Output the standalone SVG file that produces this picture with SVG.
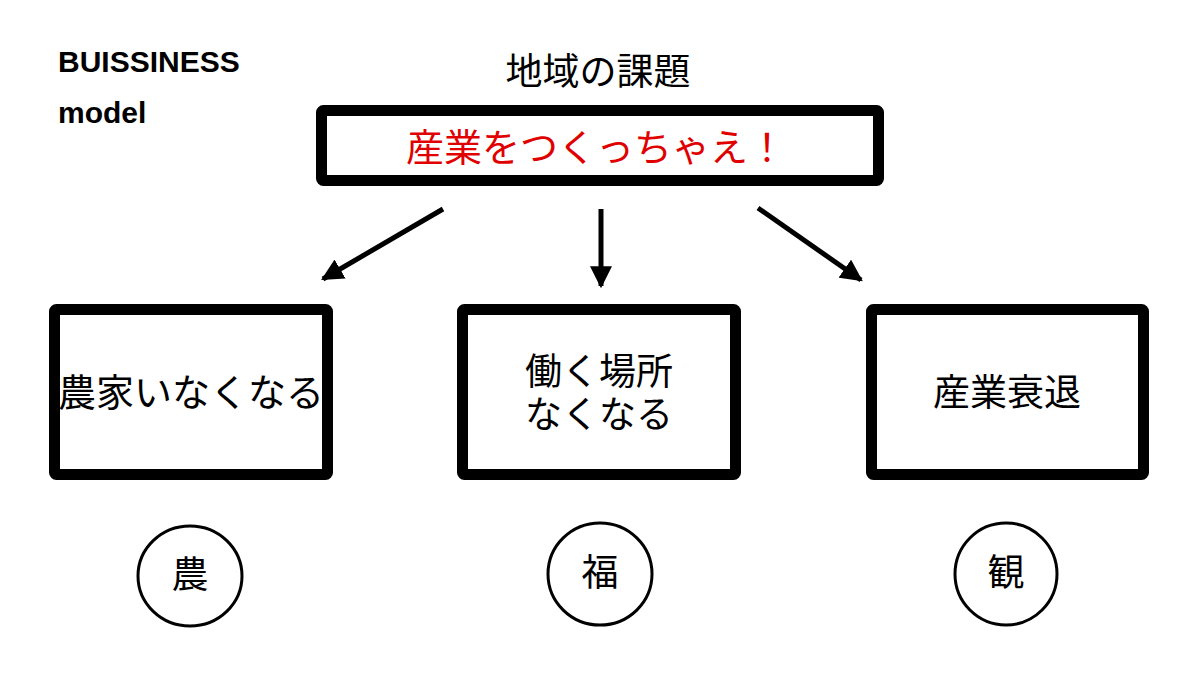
<svg xmlns="http://www.w3.org/2000/svg" width="1200" height="675" viewBox="0 0 1200 675">
<defs>
<style>
.box{fill:#fff;stroke:#000;stroke-width:11}
.jp{font-family:"Noto Sans CJK JP","Noto Sans CJK SC",sans-serif;font-size:37px;fill:#000;text-anchor:middle}
.en{font-family:"Liberation Sans",Arial,sans-serif;font-weight:bold;font-size:30px;fill:#000}
.circ{fill:#fff;stroke:#000;stroke-width:3}
.arr{stroke:#000;stroke-width:5;fill:none;marker-end:url(#ah)}
</style>
<marker id="ah" viewBox="0 0 10 10" refX="9" refY="5" markerWidth="4.4" markerHeight="4.4" orient="auto" markerUnits="strokeWidth">
<path d="M0,0 L10,5 L0,10 z" fill="#000"/>
</marker>
</defs>
<rect width="1200" height="675" fill="#fff"/>
<g id="label-business">
<text class="en" x="58" y="72">BUISSINESS</text>
<text class="en" x="58" y="123">model</text>
</g>
<g id="title">
<text class="jp" x="598" y="85" font-size="40">地域の課題</text>
</g>
<g id="top">
<rect class="box" x="321.5" y="110.5" width="557" height="70" rx="2"/>
<text class="jp" x="596" y="161" style="fill:#e00000;font-size:38px">産業をつくっちゃえ！</text>
</g>
<g id="connectors">
<line class="arr" x1="443" y1="209" x2="323" y2="279"/>
<line class="arr" x1="601" y1="209" x2="601" y2="286"/>
<line class="arr" x1="758" y1="208" x2="861" y2="280"/>
</g>
<g id="node-farm">
<rect class="box" x="54.5" y="309.5" width="273" height="165" rx="2"/>
<text class="jp" x="191" y="406" style="font-size:38px">農家いなくなる</text>
</g>
<g id="node-work">
<rect class="box" x="462.5" y="309.5" width="273" height="165" rx="2"/>
<text class="jp" x="599" y="385">働く場所</text>
<text class="jp" x="599" y="428">なくなる</text>
</g>
<g id="node-industry">
<rect class="box" x="871.5" y="309.5" width="272" height="165" rx="2"/>
<text class="jp" x="1007" y="406">産業衰退</text>
</g>
<g id="circle-agri">
<ellipse class="circ" cx="190" cy="576" rx="52" ry="50"/>
<text class="jp" x="190" y="588" font-size="34">農</text>
</g>
<g id="circle-welfare">
<ellipse class="circ" cx="600" cy="574" rx="52" ry="51"/>
<text class="jp" x="600" y="586" font-size="34">福</text>
</g>
<g id="circle-tourism">
<ellipse class="circ" cx="1006" cy="574" rx="51" ry="51"/>
<text class="jp" x="1006" y="586" font-size="34">観</text>
</g>
</svg>
